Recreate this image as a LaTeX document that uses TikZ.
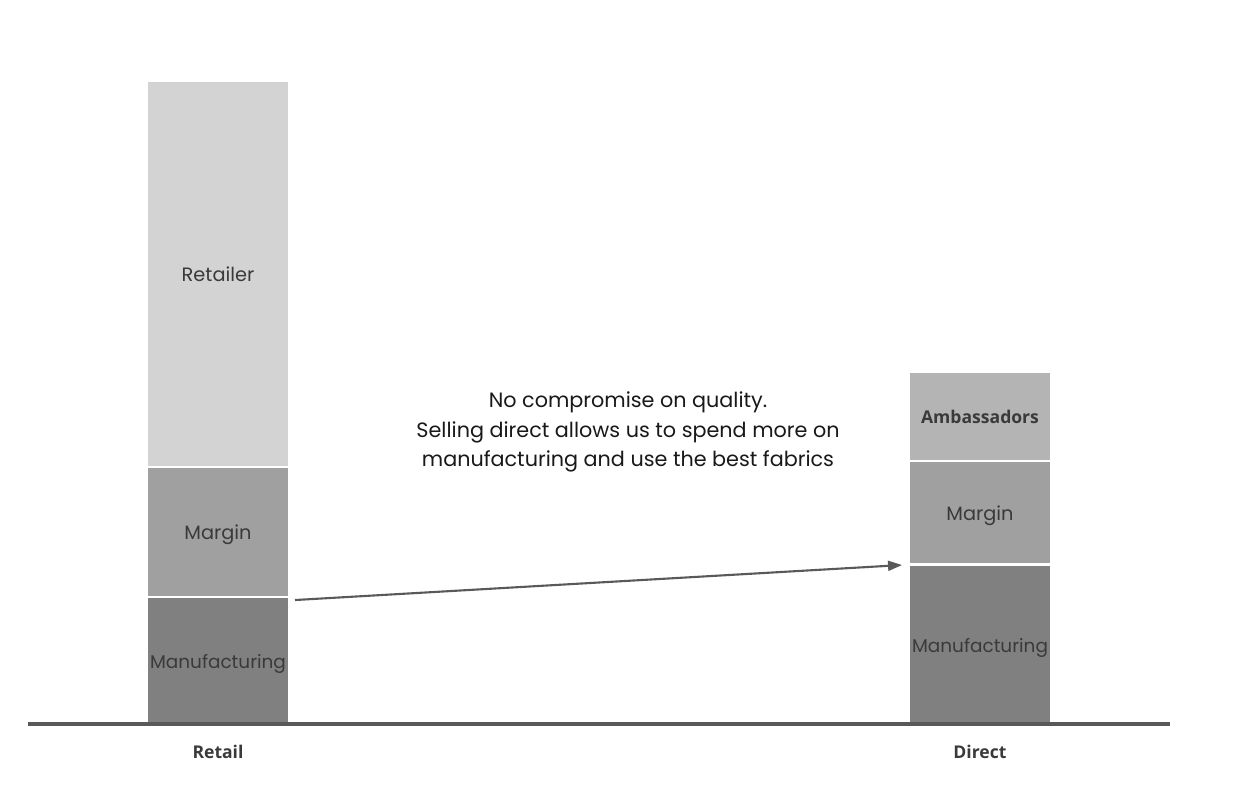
\documentclass[tikz,border=0pt]{standalone}
\usepackage{fontspec}
\setmainfont{Poppins}
\newfontfamily\axisfont{Open Sans}
\usetikzlibrary{arrows.meta}
\definecolor{retailgray}{HTML}{D3D3D3}
\definecolor{margingray}{HTML}{A0A0A0}
\definecolor{mfggray}{HTML}{808080}
\definecolor{ambgray}{HTML}{B4B4B4}
\definecolor{labelgray}{HTML}{3A3A3A}
\definecolor{linegray}{HTML}{595959}

\begin{document}
\begin{tikzpicture}[x=0.02cm,y=-0.02cm,
	seg/.style={rectangle,minimum width=2.84cm,inner sep=0pt,outer sep=0pt,draw=white,line width=1.2pt,text=labelgray,font=\fontsize{11}{13}\selectfont},
	axislabel/.style={text=labelgray,font=\axisfont\bfseries\fontsize{10}{12}\selectfont}]
	\useasboundingbox (0,0) rectangle (1254,796);
					\node (retailerL)[seg,minimum height=7.72cm,fill=retailgray] at (218,274){Retailer};
					\node (marginL)[seg,minimum height=2.6cm,fill=margingray,text height=0.42cm] at (218,532){Margin};
					\node (mfgL)[seg,minimum height=2.54cm,fill=mfggray,text height=0.42cm,font=\fontsize{10.5}{13}\selectfont] at (218,660.5){Manufacturing};
					\node (ambD)[seg,minimum height=1.78cm,fill=ambgray,font=\axisfont\bfseries\fontsize{10}{12}\selectfont] at (980,416.5){Ambassadors};
					\node (marginD)[seg,minimum height=2.07cm,fill=margingray,text height=0.42cm] at (980,512.75){Margin};
					\node (mfgD)[seg,minimum height=3.19cm,fill=mfggray,text height=0.42cm,font=\fontsize{10.5}{13}\selectfont] at (980,644.25){Manufacturing};
					\coordinate (axisL) at (28,724);
					\coordinate (axisR) at (1170,724);
					\draw[linegray,line width=1.8pt] (axisL) -- (axisR);
					\node (retail)[axislabel] at (218,752){Retail};
					\node (direct)[axislabel] at (980,752){Direct};
					\draw[linegray,line width=1.2pt,-{Triangle[length=0.28cm,width=0.2cm]}] ([xshift=0.12cm,yshift=-0.06cm]mfgL.north east) -- ([xshift=-0.14cm,yshift=-0.01cm]mfgD.north west);
					\node (quality)[align=center,font=\fontsize{11.8}{17}\selectfont,text=black!90] at (628,432){
						No compromise on quality.\\
						Selling direct allows us to spend more on\\
						manufacturing and use the best fabrics
					};
				\end{tikzpicture}
\end{document}
